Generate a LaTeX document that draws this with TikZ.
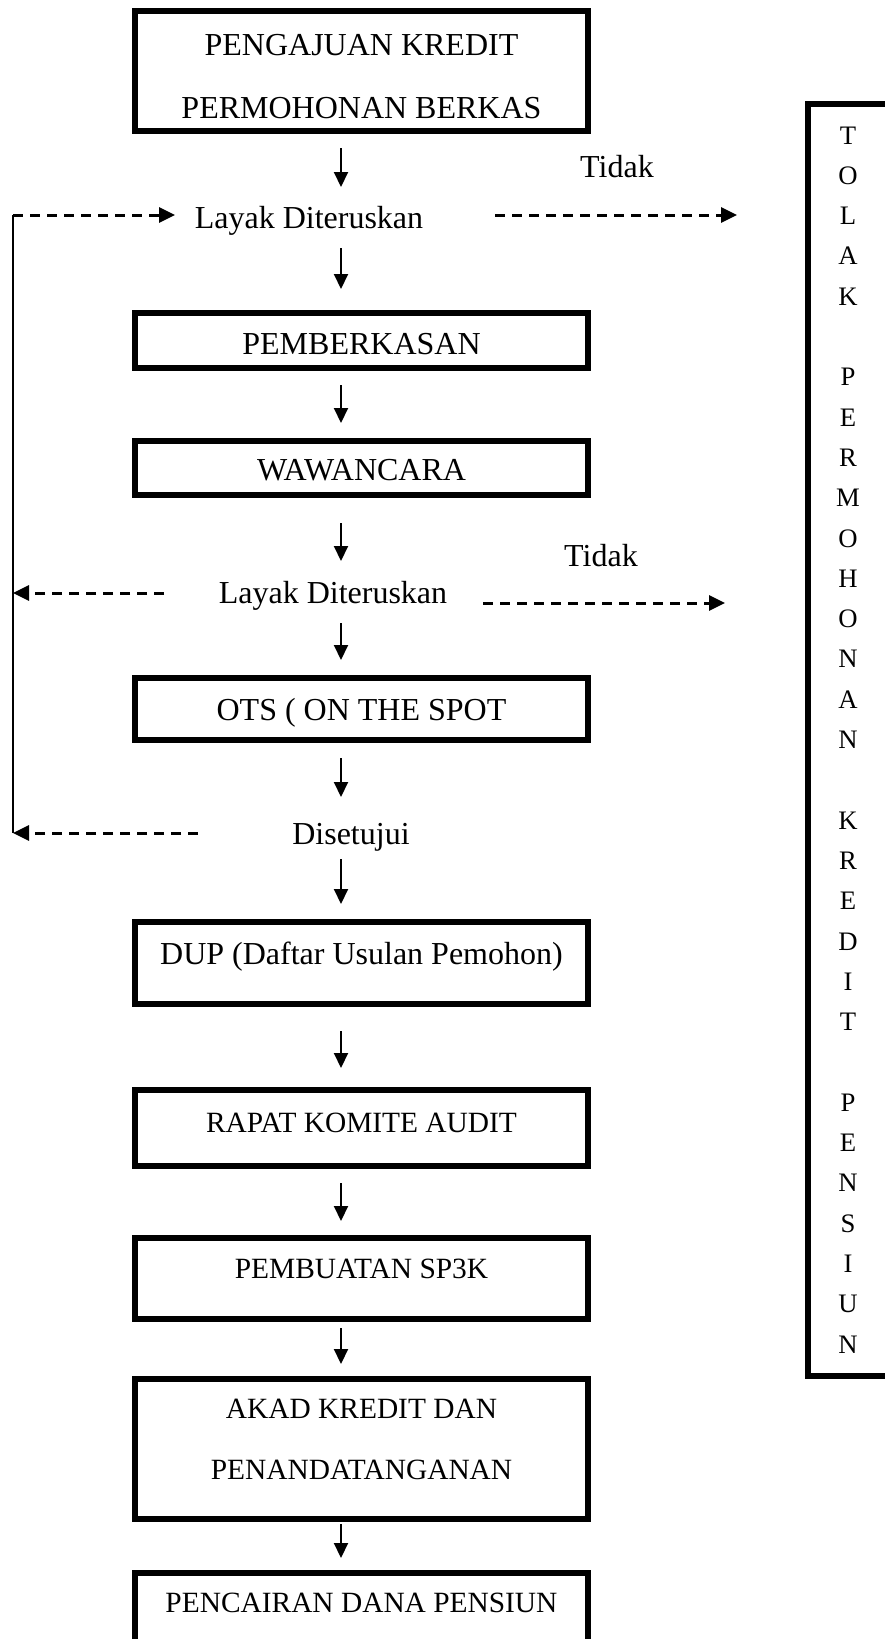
\documentclass[tikz,border=0pt]{standalone}
\usepackage{fontspec}
\setmainfont{Liberation Serif}
\usetikzlibrary{arrows.meta}
\begin{document}
\begin{tikzpicture}[x=1pt,y=-1pt,
  box/.style={draw, line width=6pt, rectangle, minimum width=453pt, inner sep=0pt},
  tbig/.style={font=\fontsize{32}{38}\selectfont, anchor=base, inner sep=0pt},
  tmid/.style={font=\fontsize{29.4}{35}\selectfont, anchor=base, inner sep=0pt},
  tsml/.style={font=\fontsize{26.7}{32}\selectfont, anchor=base, inner sep=0pt},
  arr/.style={line width=2pt, -{Triangle[length=15pt,width=14pt]}},
  darr/.style={line width=3pt, dash pattern=on 10pt off 7pt, -{Triangle[length=16pt,width=15pt]}},
  loopline/.style={line width=2pt}
]
\useasboundingbox (0,0) rectangle (885,1639);
\clip (0,0) rectangle (885,1639);

% boxes
\node[box, minimum height=120pt] (b1) at (361.5,71) {};
\node[box, minimum height=55pt] (b2) at (361.5,340.5) {};
\node[box, minimum height=54pt] (b3) at (361.5,468) {};
\node[box, minimum height=62pt] (b4) at (361.5,709) {};
\node[box, minimum height=82pt] (b5) at (361.5,963) {};
\node[box, minimum height=76pt] (b6) at (361.5,1128) {};
\node[box, minimum height=81pt] (b7) at (361.5,1278.5) {};
\node[box, minimum height=140pt] (b8) at (361.5,1449) {};
\node[box, minimum height=77pt] (b9) at (361.5,1611.5) {};

% box texts
\node[tbig] (t1a) at (361.5,55) {PENGAJUAN KREDIT};
\node[tbig] (t1b) at (361.5,118) {PERMOHONAN BERKAS};
\node[tbig] (t2) at (361.5,354) {PEMBERKASAN};
\node[tbig] (t3) at (361.5,480) {WAWANCARA};
\node[tbig] (t4) at (361.5,720) {OTS ( ON THE SPOT};
\node[tbig] (t5) at (361.5,964) {DUP (Daftar Usulan Pemohon)};
\node[tmid] (t6) at (361.5,1132) {RAPAT KOMITE AUDIT};
\node[tmid] (t7) at (361.5,1278) {PEMBUATAN SP3K};
\node[tmid] (t8a) at (361.5,1418) {AKAD KREDIT DAN};
\node[tmid] (t8b) at (361.5,1479) {PENANDATANGANAN};
\node[tmid] (t9) at (361.5,1612) {PENCAIRAN DANA PENSIUN};

% free labels
\node[tbig] (ld1) at (309,228) {Layak Diteruskan};
\node[tbig] (ld2) at (333,603) {Layak Diteruskan};
\node[tbig] (ds) at (351,844) {Disetujui};
\node[tbig] (td1) at (617,177) {Tidak};
\node[tbig] (td2) at (601,566) {Tidak};

% right reject box
\node[draw, line width=6pt, rectangle, outer sep=0pt, minimum width=110pt, minimum height=1272pt, inner sep=0pt, anchor=north west] (tolak) at (808,104) {};
\foreach \i/\c in {0/T,1/O,2/L,3/A,4/K,6/P,7/E,8/R,9/M,10/O,11/H,12/O,13/N,14/A,15/N,17/K,18/R,19/E,20/D,21/I,22/T,24/P,25/E,26/N,27/S,28/I,29/U,30/N}
  \node[tsml] (L\i) at (848,144+40.3*\i) {\c};

% arrow coordinates
\coordinate (a1s) at (341,148);  \coordinate (a1e) at (341,187);
\coordinate (a2s) at (341,248);  \coordinate (a2e) at (341,289);
\coordinate (a3s) at (341,385);  \coordinate (a3e) at (341,423);
\coordinate (a4s) at (341,523);  \coordinate (a4e) at (341,561);
\coordinate (a5s) at (341,623);  \coordinate (a5e) at (341,660);
\coordinate (a6s) at (341,758);  \coordinate (a6e) at (341,797);
\coordinate (a7s) at (341,859);  \coordinate (a7e) at (341,904);
\coordinate (a8s) at (341,1031); \coordinate (a8e) at (341,1068);
\coordinate (a9s) at (341,1183); \coordinate (a9e) at (341,1221);
\coordinate (a10s) at (341,1328); \coordinate (a10e) at (341,1364);
\coordinate (a11s) at (341,1524); \coordinate (a11e) at (341,1558);

\foreach \k in {1,...,11}
  \draw[arr] (a\k s) -- (a\k e);

% loop and dashed connectors
\coordinate (lt) at (13,215);
\coordinate (lb) at (13,833);
\coordinate (d1e) at (175,215);
\coordinate (d2s) at (495,215); \coordinate (d2e) at (737,215);
\coordinate (d3s) at (164,593);
\coordinate (d4s) at (483,603); \coordinate (d4e) at (725,603);
\coordinate (d5s) at (198,833);

\draw[loopline] (lt) -- (lb);
\draw[darr] (lt) -- (d1e);
\draw[darr] (d2s) -- (d2e);
\draw[darr] (d3s) -- (d3s -| lt);
\draw[darr] (d4s) -- (d4e);
\draw[darr] (d5s) -- (lb);
\end{tikzpicture}
\end{document}
